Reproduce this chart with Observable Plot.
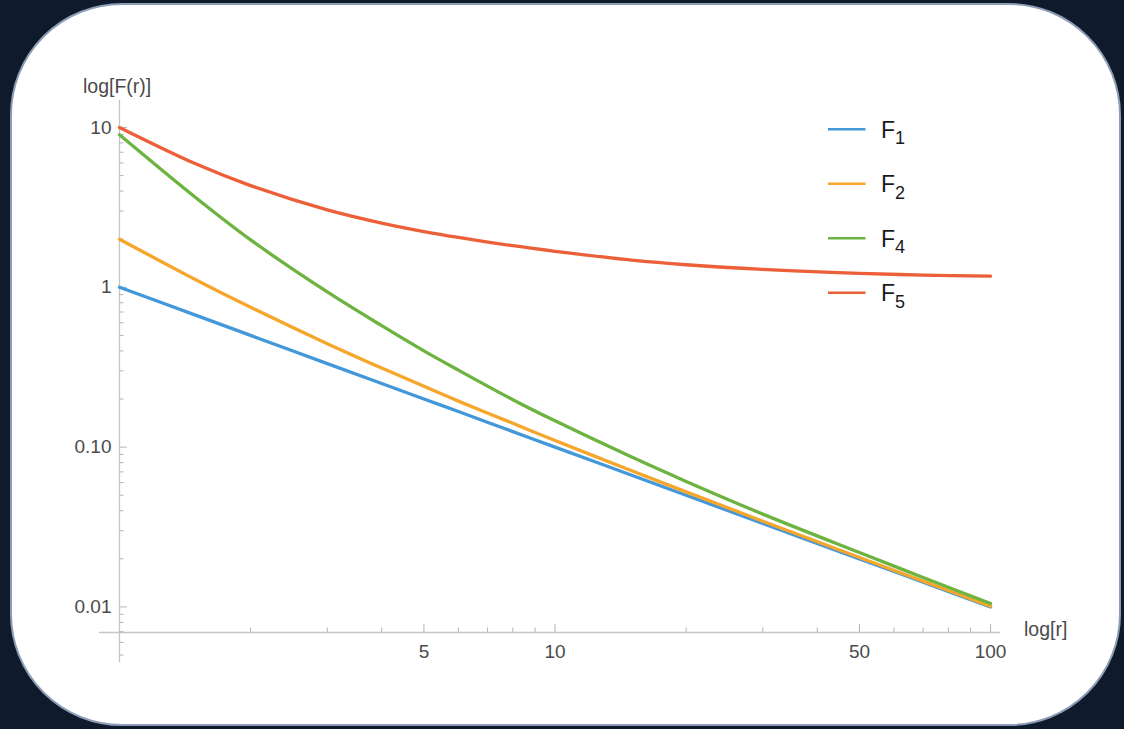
<!DOCTYPE html>
<html>
<head>
<meta charset="utf-8">
<script src="https://cdn.jsdelivr.net/npm/d3@7"></script>
<script src="https://cdn.jsdelivr.net/npm/@observablehq/plot@0.6"></script>
<style>
  html, body { margin: 0; padding: 0; background: #0f1a2a; width: 1124px; height: 729px; overflow: hidden; font-family: "Liberation Sans", Arial, sans-serif; }
  #card { position: absolute; left: 10px; top: 3px; width: 1107px; height: 719px; background: #ffffff; border: 2px solid #8e9db7; border-radius: 112px; }
  #chart { position: absolute; left: 0; top: 0; }
  #legend { position: absolute; left: 0; top: 0; }
</style>
</head>
<body>
<div id="card"></div>
<div id="chart"></div>
<div id="legend"></div>
<script>
// ---- data ----
const r  = [1, 1.5, 2, 3, 4, 5, 6, 8, 10, 15, 20, 30, 50, 70, 100];
const F1 = [1, 0.667, 0.5, 0.333, 0.25, 0.2, 0.167, 0.125, 0.1, 0.0667, 0.05, 0.0333, 0.02, 0.0143, 0.01];
const F2 = [2, 1.111, 0.75, 0.444, 0.3125, 0.24, 0.194, 0.141, 0.11, 0.0711, 0.0525, 0.0344, 0.0204, 0.0145, 0.0101];
const F4 = [9.0, 3.62, 1.98, 0.935, 0.575, 0.40, 0.303, 0.198, 0.146, 0.0866, 0.061, 0.0381, 0.0219, 0.0153, 0.0105];
const F5 = [10, 5.90, 4.33, 3.05, 2.52, 2.23, 2.05, 1.82, 1.68, 1.479, 1.384, 1.294, 1.223, 1.193, 1.175];

const seriesNames = ["F1", "F2", "F4", "F5"];
const seriesSub   = ["1", "2", "4", "5"];
const seriesColors = ["#4398da", "#f5a62b", "#6db33f", "#ec5f38"];

const xMajorTicks = [5, 10, 50, 100];
const xMinorTicks = [2, 3, 4, 6, 7, 8, 9, 20, 30, 40, 60, 70, 80, 90];
const yMajorTicks = [0.01, 0.1, 1, 10];
const yMajorLabels = ["0.01", "0.10", "1", "10"];
const yMinorTicks = [0.005, 0.006, 0.007, 0.008, 0.009,
  0.02, 0.03, 0.04, 0.05, 0.06, 0.07, 0.08, 0.09,
  0.2, 0.3, 0.4, 0.5, 0.6, 0.7, 0.8, 0.9,
  2, 3, 4, 5, 6, 7, 8, 9];

// axis extents (data units)
const xAxisAtY = 0.00692;   // where the r-axis crosses
const yTop = 14.75, yBottom = 0.00447;
const xLeft = 0.9, xRight = 105.4;

// long table for the lines
const seriesValues = [F1, F2, F4, F5];
const table = [];
seriesNames.forEach((name, s) => r.forEach((rv, i) => table.push({r: rv, v: seriesValues[s][i], series: name})));

const axisColor = "#c6c6c6";
const tickColor = "#b4b4b4";
const textColor = "#4a4a4a";

const chart = Plot.plot({
  width: 1124,
  height: 729,
  marginLeft: 119,
  marginRight: 124,
  marginTop: 100,
  marginBottom: 97,
  x: {type: "log", domain: [1, xRight], label: null},
  y: {type: "log", domain: [xAxisAtY, yTop], label: null},
  color: {domain: seriesNames, range: seriesColors},
  style: {background: "transparent", overflow: "visible", fontFamily: "'Liberation Sans', Arial, sans-serif", fontSize: "19px", color: textColor},
  marks: [
    // axis lines
    Plot.ruleY([xAxisAtY], {x1: xLeft, x2: xRight, stroke: axisColor, strokeWidth: 1.3, clip: false}),
    Plot.ruleX([1], {y1: yBottom, y2: yTop, stroke: axisColor, strokeWidth: 1.3, clip: false}),
    // ticks (inward)
    Plot.axisX(xMajorTicks, {tickSize: -8, fill: "none", stroke: tickColor, label: null}),
    Plot.axisX(xMinorTicks, {tickSize: -4.5, fill: "none", stroke: tickColor, label: null}),
    Plot.axisY(yMajorTicks, {tickSize: -8, fill: "none", stroke: tickColor, label: null}),
    Plot.axisY(yMinorTicks, {tickSize: -4.5, fill: "none", stroke: tickColor, label: null}),
    // tick labels
    Plot.axisX(xMajorTicks, {tickSize: 0, tickPadding: 12, stroke: "none", fill: textColor, label: null, tickFormat: d => String(d)}),
    Plot.axisY(yMajorTicks, {tickSize: 0, tickPadding: 8, stroke: "none", fill: textColor, label: null, tickFormat: d => yMajorLabels[yMajorTicks.indexOf(d)]}),
    // axis titles
    Plot.text(["log[F(r)]"], {frameAnchor: "top-left", dx: -36.5, dy: -21.5, textAnchor: "start", fill: textColor, fontSize: 19.5}),
    Plot.text(["log[r]"], {frameAnchor: "bottom-right", dx: 23.5, dy: 3.5, textAnchor: "start", fill: textColor, fontSize: 19.5}),
    // curves
    Plot.line(table, {x: "r", y: "v", z: "series", stroke: "series", strokeWidth: 3.3, curve: "catmull-rom"})
  ]
});
document.getElementById("chart").appendChild(chart);

// legend (swatch + F with subscript)
const lg = d3.select("#legend").append("svg")
  .attr("width", 1124).attr("height", 729)
  .style("position", "absolute").style("left", 0).style("top", 0)
  .style("font-family", "'Liberation Sans', Arial, sans-serif");
seriesNames.forEach((name, i) => {
  const cy = 129.3 + i * 54.5;
  lg.append("line").attr("x1", 828).attr("x2", 865.5).attr("y1", cy).attr("y2", cy)
    .attr("stroke", seriesColors[i]).attr("stroke-width", 2.6);
  const t = lg.append("text").attr("x", 881).attr("y", cy + 8.5).attr("fill", "#1a1a1a").attr("font-size", 23);
  t.append("tspan").text("F");
  t.append("tspan").attr("dy", 6.5).attr("font-size", 18).text(seriesSub[i]);
});
</script>
</body>
</html>
